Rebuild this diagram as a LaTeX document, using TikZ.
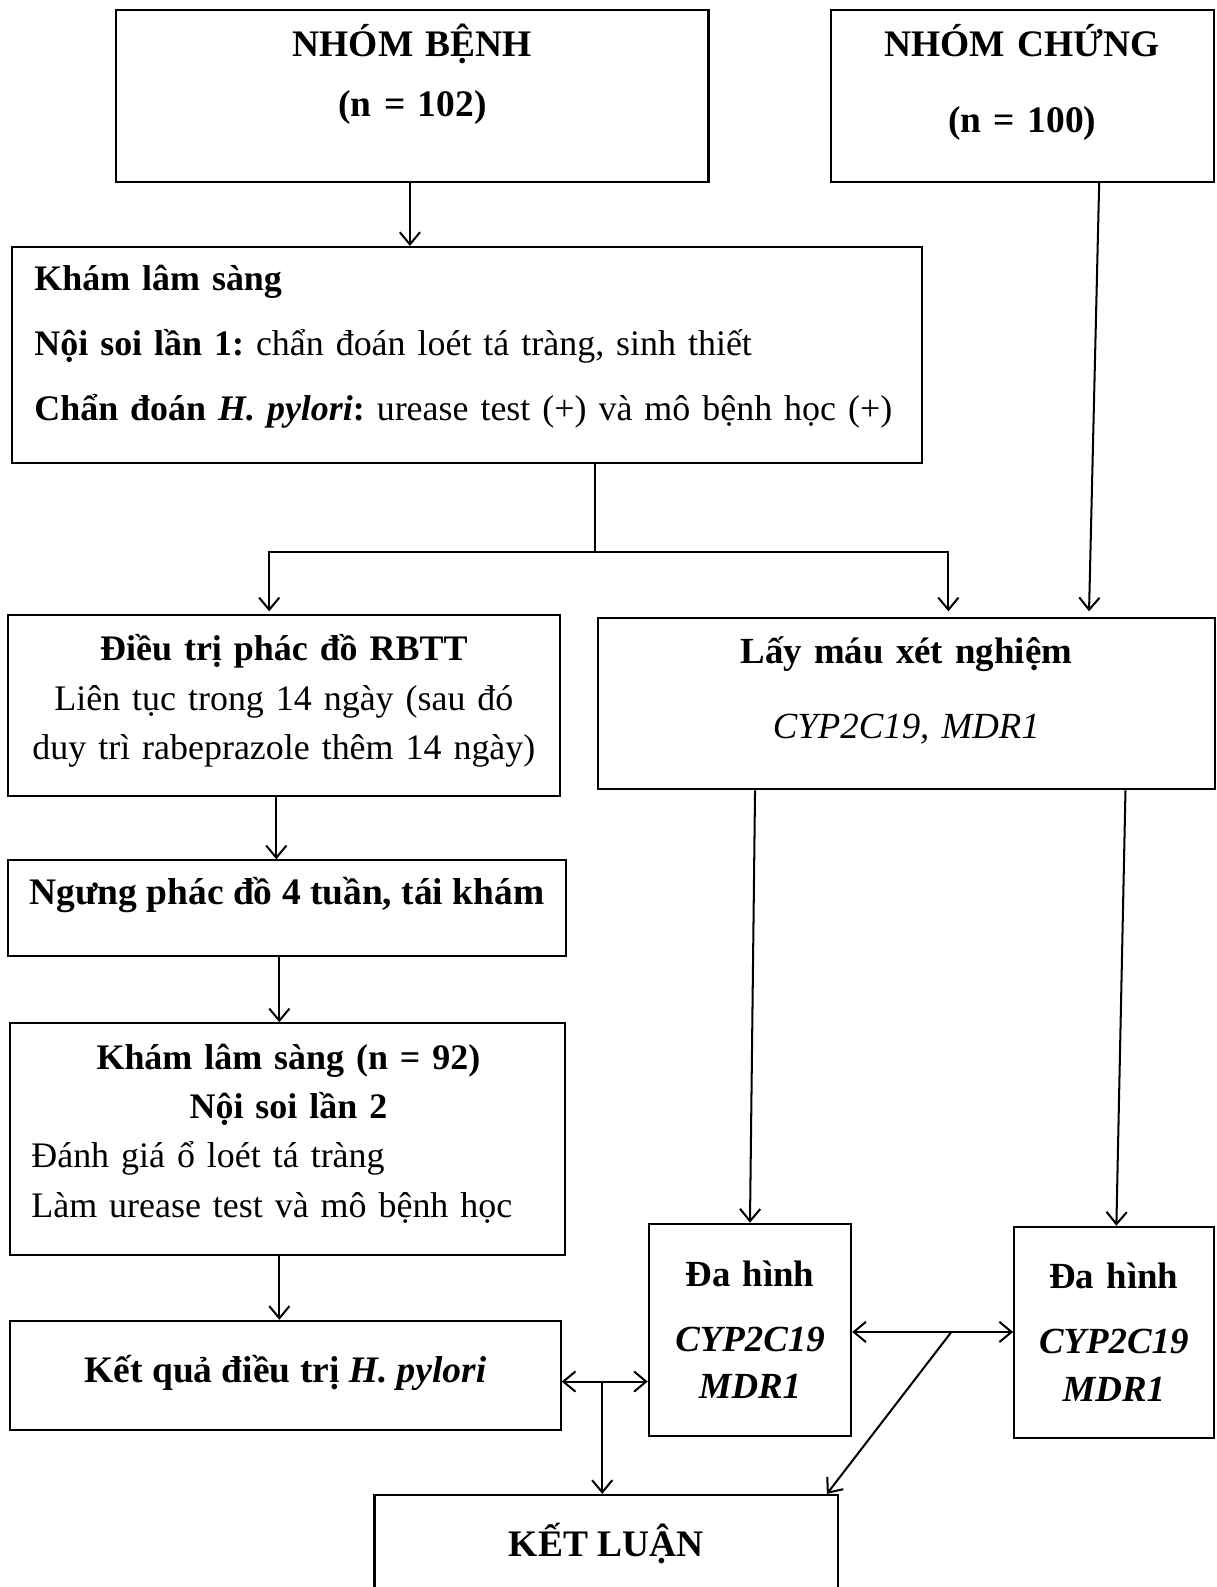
\documentclass[tikz,border=0pt]{standalone}
\usepackage{fontspec}
\setmainfont{Liberation Serif}
\usetikzlibrary{arrows.meta,calc}
\newcommand{\diagfont}{\fontsize{18.5pt}{24.25pt}\selectfont\frenchspacing}
\newcommand{\bodyfont}{\fontsize{17.75pt}{24.25pt}\selectfont\frenchspacing}
\newcommand{\midfont}{\fontsize{18.2pt}{24.25pt}\selectfont\frenchspacing}

\begin{document}
\begin{tikzpicture}[x=0.5pt, y=-0.5pt, line width=1pt, >={Straight Barb[length=6pt,width=10pt]},
  box/.style={draw, inner sep=0pt},
  txt/.style={inner sep=0pt, font=\diagfont, anchor=base}]
  \useasboundingbox (0,0) rectangle (1202,1568);
  % boxes
  \node[box, minimum width=292.5pt, minimum height=85pt] (benh) at (407.5,95) {};
  \node[box, minimum width=189pt, minimum height=85pt] (chung) at (1010,95) {};
  \node[box, minimum width=449.5pt, minimum height=106.5pt] (kham) at (461.5,350.5) {};
  \node[box, minimum width=272.5pt, minimum height=89pt] (dieutri) at (280.5,697) {};
  \node[box, minimum width=304.5pt, minimum height=84.5pt] (laymau) at (895.5,695.5) {};
  \node[box, minimum width=275.5pt, minimum height=47.5pt] (ngung) at (283.5,897.5) {};
  \node[box, minimum width=274pt, minimum height=114.5pt] (kham2) at (284,1125.5) {};
  \node[box, minimum width=272pt, minimum height=54pt] (ketqua) at (282,1359) {};
  \node[box, minimum width=100pt, minimum height=105pt] (dahinh1) at (741,1314) {};
  \node[box, minimum width=98.5pt, minimum height=104.5pt] (dahinh2) at (1100.5,1316.5) {};
  \node[box, minimum width=229pt, minimum height=100pt] (ketluan) at (599,1577) {};
  % texts
  \node[txt, text width=280pt, align=center, font=\diagfont\bfseries] (benhT) at (407.5,56)
    {NHÓM BỆNH\\[5.25pt](n = 102)};
  \node[txt, text width=180pt, align=center, font=\diagfont\bfseries] (chungT) at (1010,56)
    {NHÓM CHỨNG\\[13.25pt](n = 100)};
  \node[txt, anchor=base west, text width=560pt, align=left, font=\bodyfont] (khamT) at (33,287)
    {\textbf{Khám lâm sàng}\\[7.75pt]
     \textbf{Nội soi lần 1:} chẩn đoán loét tá tràng, sinh thiết\\[7.75pt]
     \textbf{Chẩn đoán \textit{H. pylori}:} urease test (+) và mô bệnh học (+)};
  \node[txt, text width=270pt, align=center, font=\bodyfont] (dieutriT) at (280.5,653)
    {\textbf{Điều trị phác đồ RBTT}\\Liên tục trong 14 ngày (sau đó\\duy trì rabeprazole thêm 14 ngày)};
  \node[txt, text width=300pt, align=center, font=\midfont] (laymauT) at (895.5,656)
    {\textbf{Lấy máu xét nghiệm}\\[12.75pt]\textit{CYP2C19, MDR1}};
  \node[txt, font=\diagfont\bfseries] (ngungT) at (283.5,894) {Ngưng phác đồ 4 tuần, tái khám};
  \node[txt, anchor=base west, text width=254pt, align=left, font=\bodyfont] (kham2T) at (30,1057)
    {\makebox[\linewidth]{\textbf{Khám lâm sàng (n = 92)}}\\
     \makebox[\linewidth]{\textbf{Nội soi lần 2}}\\
     Đánh giá ổ loét tá tràng\\
     Làm urease test và mô bệnh học};
  \node[txt, font=\diagfont\bfseries] (ketquaT) at (282,1366) {Kết quả điều trị \textit{H. pylori}};
  \node[txt, text width=95pt, align=center, font=\midfont\bfseries] (dahinh1T) at (741,1271)
    {Đa hình\\[8pt]\textit{CYP2C19}\\[-1pt]\textit{MDR1}};
  \node[txt, text width=95pt, align=center, font=\midfont\bfseries] (dahinh2T) at (1100.5,1273)
    {Đa hình\\[8pt]\textit{CYP2C19}\\[-0.5pt]\textit{MDR1}};
  \node[txt, font=\diagfont\bfseries] (ketluanT) at (599,1538) {KẾT LUẬN};
  % connectors
  \draw[->] (benh.south -| 405,0) -- (kham.north -| 405,0);
  \draw[->] (chung.south -| 1086,0) -- ([yshift=3pt]laymau.north -| 1076,0);
  \coordinate (split) at (588,545);
  \draw (kham.south -| split) -- (split);
  \draw[->] (split) -| ([yshift=1.5pt]dieutri.north -| 266,0);
  \draw[->] (split) -| ([yshift=3pt]laymau.north -| 937,0);
  \draw[->] (dieutri.south -| 273,0) -- (ngung.north -| 273,0);
  \draw[->] (ngung.south -| 276,0) -- (kham2.north -| 276,0);
  \draw[->] (kham2.south -| 276,0) -- (ketqua.north -| 276,0);
  \draw[->] (laymau.south -| 746,0) -- (dahinh1.north -| 741,0);
  \draw[->] (laymau.south -| 1112,0) -- (dahinh2.north -| 1103,0);
  \draw[<->] (ketqua.east |- 0,1365) -- (dahinh1.west |- 0,1365);
  \coordinate (j1) at (595,1365);
  \draw[->] (j1) -- (ketluan.north -| j1);
  \draw[<->] (dahinh1.east |- 0,1316) -- (dahinh2.west |- 0,1316);
  \coordinate (j2) at (940,1316);
  \draw[->] (j2) -- (ketluan.north -| 817,0);
\end{tikzpicture}
\end{document}
